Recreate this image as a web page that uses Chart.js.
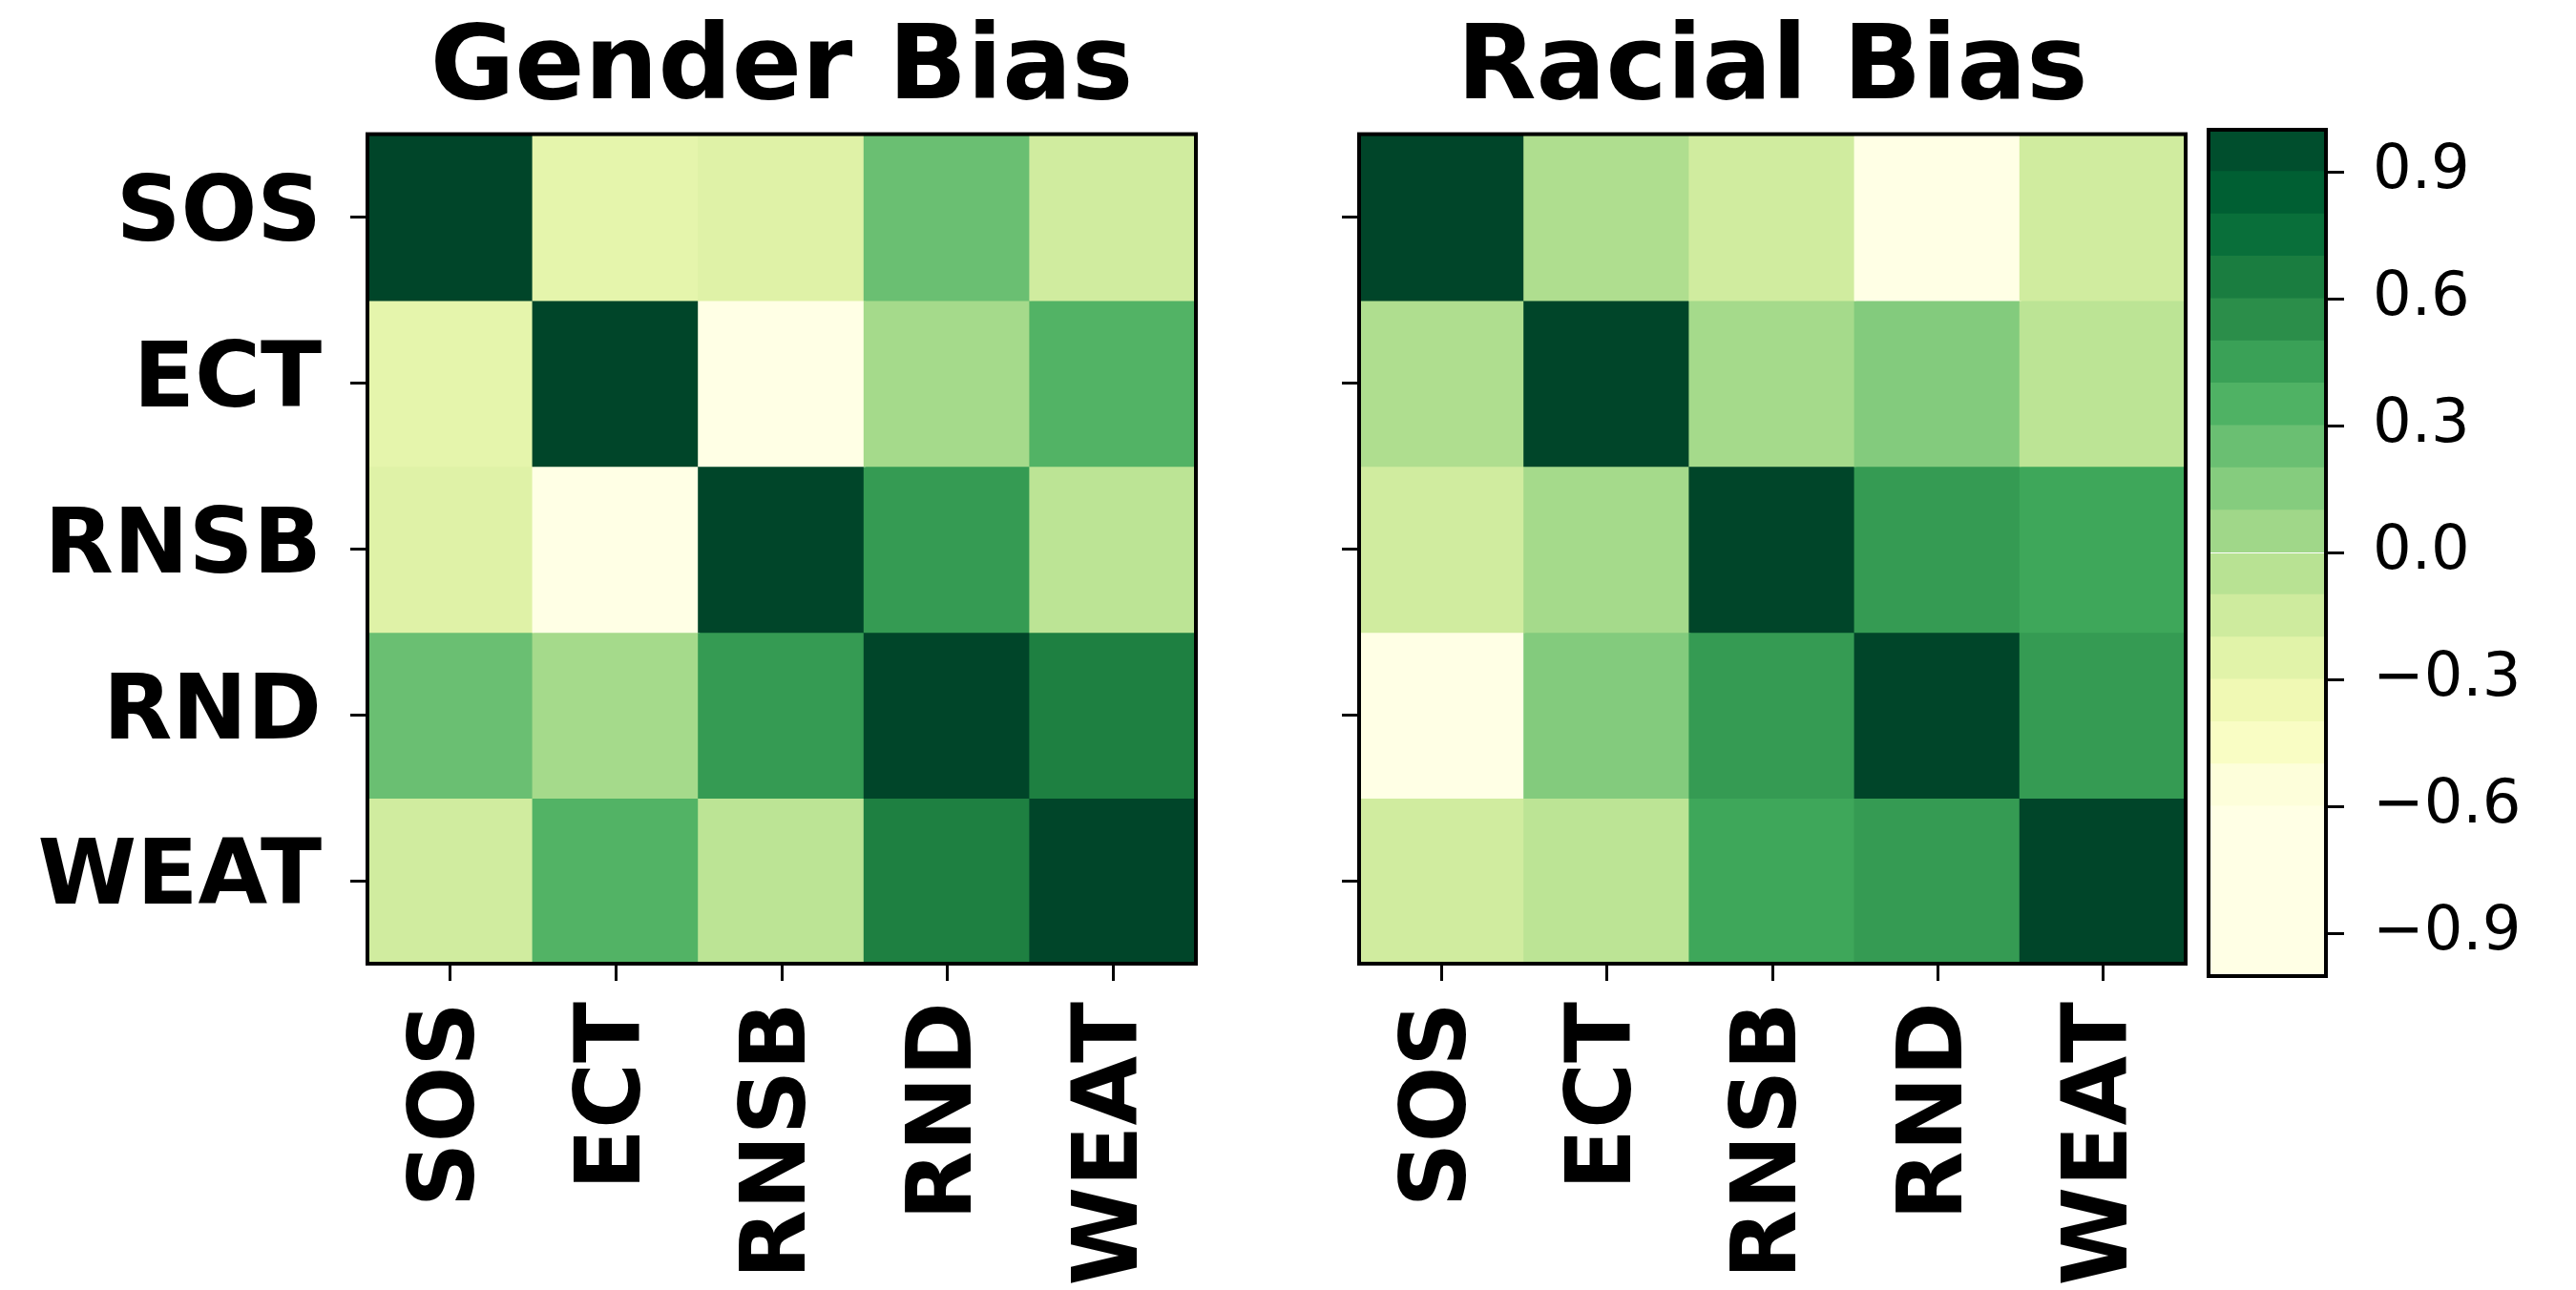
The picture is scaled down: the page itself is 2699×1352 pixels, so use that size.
<!DOCTYPE html>
<html>
<head>
<meta charset="utf-8">
<script src="https://cdn.jsdelivr.net/npm/chart.js@4"></script>
<style>
  body { margin: 0; background: #fff; }
  #wrap { position: relative; width: 2699px; height: 1352px; overflow: hidden; }
  canvas { position: absolute; top: 0; }
</style>
</head>
<body>
<div id="wrap">
  <canvas id="gender" width="1300" height="1352" style="left:0px"></canvas>
  <canvas id="racial" width="1000" height="1352" style="left:1300px"></canvas>
  <canvas id="cbar" width="399" height="1352" style="left:2300px"></canvas>
</div>
<script>
// bias measures (rows / cols of both matrices)
const methods = ["SOS", "ECT", "RNSB", "RND", "WEAT"];

// correlation values
const genderBias = [
    [1.00, -0.28, -0.24, 0.25, -0.16],
    [-0.28, 1.00, -0.62, 0.03, 0.34],
    [-0.24, -0.62, 1.00, 0.48, -0.07],
    [0.25, 0.03, 0.48, 1.00, 0.63],
    [-0.16, 0.34, -0.07, 0.63, 1.00],
];
const racialBias = [
    [1.00, -0.01, -0.16, -0.62, -0.16],
    [-0.01, 1.00, 0.03, 0.16, -0.07],
    [-0.16, 0.03, 1.00, 0.48, 0.42],
    [-0.62, 0.16, 0.48, 1.00, 0.48],
    [-0.16, -0.07, 0.42, 0.48, 1.00],
];

// colorbar levels and tick labels
const cbarLevels = [-1.0, -0.9, -0.8, -0.7, -0.6, -0.5, -0.4, -0.3, -0.2, -0.1,
    0.0, 0.1, 0.2, 0.3, 0.4, 0.5, 0.6, 0.7, 0.8, 0.9, 1.0];
const cbarTicks = [-0.9, -0.6, -0.3, 0.0, 0.3, 0.6, 0.9];

Chart.defaults.font.family = '"DejaVu Sans", Verdana, sans-serif';
Chart.defaults.color = "#000";

// YlGn colormap, mapped over [-0.6, 1.0]
const VMIN = -0.6, VMAX = 1.0;
const YLGN = ["#ffffe5", "#f7fcb9", "#d9f0a3", "#addd8e", "#78c679",
    "#41ab5d", "#238443", "#006837", "#004529"];
function hex(h) {
    return [1, 3, 5].map((i) => parseInt(h.slice(i, i + 2), 16));
}
function colorFor(v) {
    let t = (v - VMIN) / (VMAX - VMIN);
    t = Math.max(0, Math.min(1, t));
    const pos = t * (YLGN.length - 1);
    const i = Math.min(Math.floor(pos), YLGN.length - 2);
    const f = pos - i;
    const a = hex(YLGN[i]), b = hex(YLGN[i + 1]);
    const c = a.map((x, k) => Math.round(x + (b[k] - x) * f));
    return `rgb(${c[0]},${c[1]},${c[2]})`;
}

// black box round the plot area
const frame = {
    id: "frame",
    afterDatasetsDraw(chart) {
        const { ctx, chartArea: a } = chart;
        ctx.save();
        ctx.strokeStyle = "#000";
        ctx.lineWidth = 4;
        ctx.strokeRect(a.left, a.top, a.right - a.left, a.bottom - a.top);
        ctx.restore();
    },
};

const tickFont = { size: 94, weight: "bold" };

function makeHeatmap(id, title, matrix, showYLabels, yWidth, padRight) {
    return new Chart(document.getElementById(id), {
        type: "bar",
        data: {
            labels: methods,
            datasets: methods.map((name, r) => ({
                label: name,
                data: methods.map(() => [r - 0.5, r + 0.5]),
                backgroundColor: matrix[r].map(colorFor),
                borderWidth: 0,
                inflateAmount: 1,
                barPercentage: 1,
                categoryPercentage: 1,
                grouped: false,
            })),
        },
        options: {
            responsive: false,
            animation: false,
            layout: { padding: { left: 0, right: padRight, top: 0, bottom: 0 } },
            plugins: {
                legend: { display: false },
                tooltip: { enabled: false },
                title: {
                    display: true,
                    text: title,
                    fullSize: false,
                    font: { size: 108, weight: "bold", lineHeight: 1.2 },
                    padding: { top: 10, bottom: 1 },
                },
            },
            scales: {
                x: {
                    type: "category",
                    afterFit: (s) => {
                        s.height = 342;
                        s.paddingLeft = 0;
                        s.paddingRight = 0;
                    },
                    grid: {
                        offset: false,
                        drawOnChartArea: false,
                        tickLength: 18,
                        color: "#000",
                        lineWidth: 3,
                    },
                    border: { display: false },
                    ticks: {
                        font: tickFont,
                        padding: 22,
                        minRotation: 90,
                        maxRotation: 90,
                        autoSkip: false,
                    },
                },
                y: {
                    type: "linear",
                    reverse: true,
                    min: -0.5,
                    max: 4.5,
                    afterBuildTicks: (s) => {
                        s.ticks = methods.map((_, i) => ({ value: i }));
                    },
                    afterFit: (s) => {
                        s.width = yWidth;
                        s.paddingTop = 0;
                        s.paddingBottom = 0;
                    },
                    grid: {
                        drawOnChartArea: false,
                        tickLength: 18,
                        color: "#000",
                        lineWidth: 3,
                    },
                    border: { display: false },
                    ticks: {
                        display: showYLabels,
                        font: tickFont,
                        padding: 30,
                        callback: (v) => methods[v],
                    },
                },
            },
        },
        plugins: [frame],
    });
}

makeHeatmap("gender", "Gender Bias", genderBias, true, 385, 47);
makeHeatmap("racial", "Racial Bias", racialBias, false, 124, 10);

// colorbar: one floating bar per level band
new Chart(document.getElementById("cbar"), {
    type: "bar",
    data: {
        labels: [""],
        datasets: cbarLevels.slice(0, -1).map((lo, i) => ({
            data: [[lo, cbarLevels[i + 1]]],
            backgroundColor: colorFor((lo + cbarLevels[i + 1]) / 2),
            borderWidth: 0,
            inflateAmount: 1,
            barPercentage: 1,
            categoryPercentage: 1,
            grouped: false,
        })),
    },
    options: {
        responsive: false,
        animation: false,
        layout: { padding: { left: 14, right: 0, top: 136, bottom: 329 } },
        plugins: { legend: { display: false }, tooltip: { enabled: false } },
        scales: {
            x: { display: false },
            y: {
                position: "right",
                min: -1,
                max: 1,
                afterBuildTicks: (s) => {
                    s.ticks = cbarTicks.map((v) => ({ value: v }));
                },
                afterFit: (s) => {
                    s.width = 262;
                    s.paddingTop = 0;
                    s.paddingBottom = 0;
                },
                grid: {
                    drawOnChartArea: false,
                    tickLength: 19,
                    color: "#000",
                    lineWidth: 3,
                },
                border: { display: false },
                ticks: {
                    font: { size: 64 },
                    padding: 30,
                    callback: (v) => (v < 0 ? "\u2212" : "") + Math.abs(v).toFixed(1),
                },
            },
        },
    },
    plugins: [frame],
});
</script>
</body>
</html>
